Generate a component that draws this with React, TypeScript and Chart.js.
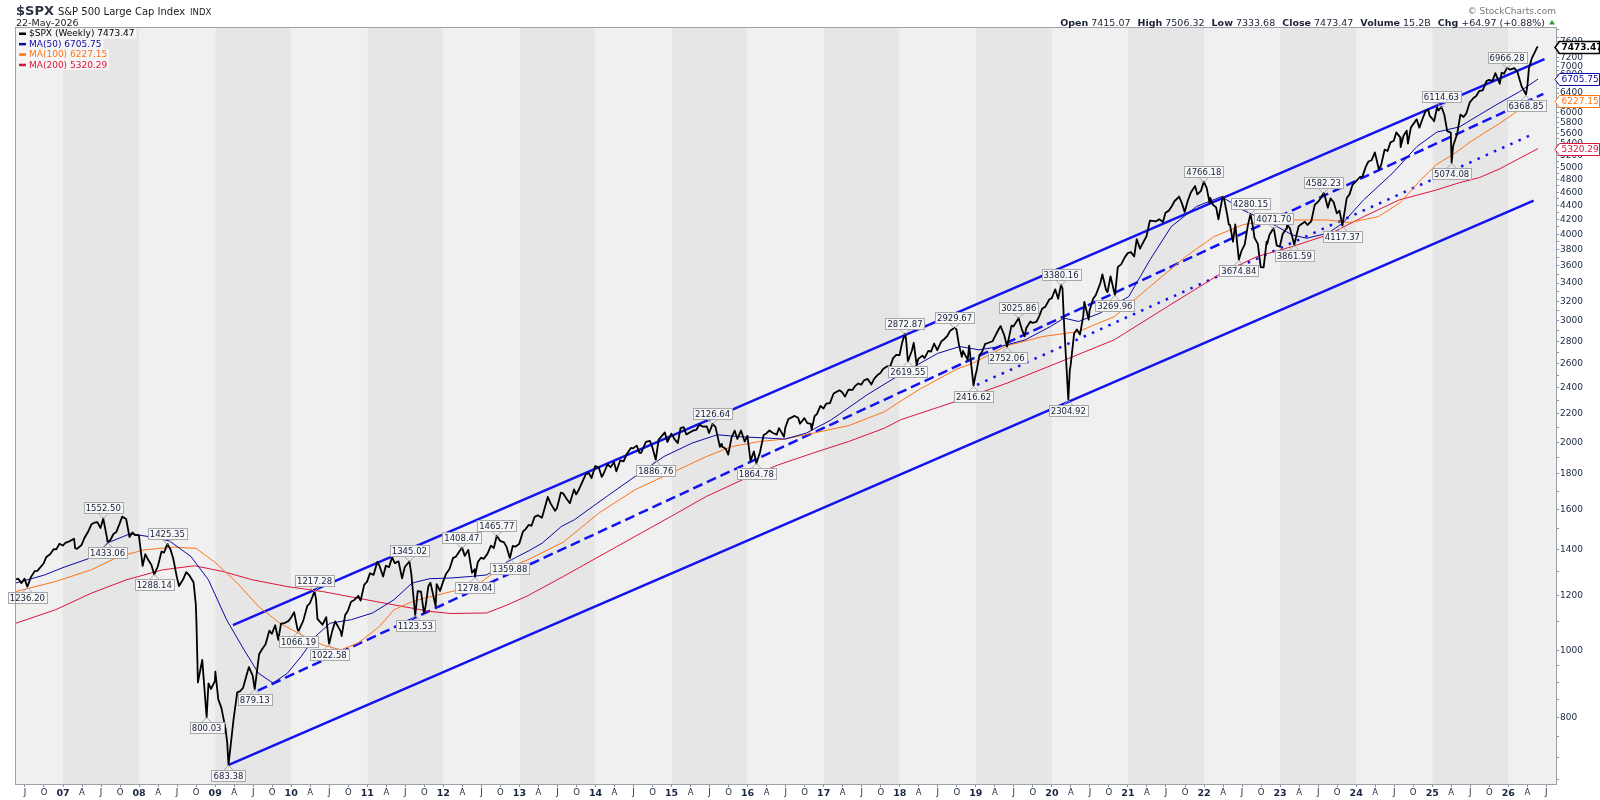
import React, { useEffect, useRef } from 'react';
import { Chart, registerables } from 'chart.js';

Chart.register(...registerables);

const FONT = '"DejaVu Sans", Verdana, sans-serif';

// visible window (decimal years) and log price range
const X_MIN = 2006.382;
const X_MAX = 2026.627;
const Y_MIN = 641;
const Y_MAX = 7950;

// month-end closes, May 2006 .. Nov 2025
const FIRST_YEAR = 2006;
const FIRST_MONTH = 5;
const monthEndCloses = [
  1270.09, 1270.2, 1276.66, 1303.82, 1335.85, 1377.94, 1400.63, 1418.3,
  1438.24, 1406.82, 1420.86, 1482.37, 1530.62, 1503.35, 1455.27, 1473.99, 1526.75, 1549.38, 1481.14, 1468.36,
  1378.55, 1330.63, 1322.7, 1385.59, 1400.38, 1280.0, 1267.38, 1282.83, 1166.36, 968.75, 896.24, 903.25,
  825.88, 735.09, 797.87, 872.81, 919.14, 919.32, 987.48, 1020.62, 1057.08, 1036.19, 1095.63, 1115.1,
  1073.87, 1104.49, 1169.43, 1186.69, 1089.41, 1030.71, 1101.6, 1049.33, 1141.2, 1183.26, 1180.55, 1257.64,
  1286.12, 1327.22, 1325.83, 1363.61, 1345.2, 1320.64, 1292.28, 1218.89, 1131.42, 1253.3, 1246.96, 1257.6,
  1312.41, 1365.68, 1408.47, 1397.91, 1310.33, 1362.16, 1379.32, 1406.58, 1440.67, 1412.16, 1416.18, 1426.19,
  1498.11, 1514.68, 1569.19, 1597.57, 1630.74, 1606.28, 1685.73, 1632.97, 1681.55, 1756.54, 1805.81, 1848.36,
  1782.59, 1859.45, 1872.34, 1883.95, 1923.57, 1960.23, 1930.67, 2003.37, 1972.29, 2018.05, 2067.56, 2058.9,
  1994.99, 2104.5, 2067.89, 2085.51, 2107.39, 2063.11, 2103.84, 1972.18, 1920.03, 2079.36, 2080.41, 2043.94,
  1940.24, 1932.23, 2059.74, 2065.3, 2096.95, 2098.86, 2173.6, 2170.95, 2168.27, 2126.15, 2198.81, 2238.83,
  2278.87, 2363.64, 2362.72, 2384.2, 2411.8, 2423.41, 2470.3, 2471.65, 2519.36, 2575.26, 2647.58, 2673.61,
  2823.81, 2713.83, 2640.87, 2648.05, 2705.27, 2718.37, 2816.29, 2901.52, 2913.98, 2711.74, 2760.17, 2506.85,
  2704.1, 2784.49, 2834.4, 2945.83, 2752.06, 2941.76, 2980.38, 2926.46, 2976.74, 3037.56, 3140.98, 3230.78,
  3225.52, 2954.22, 2584.59, 2912.43, 3044.31, 3100.29, 3271.12, 3500.31, 3363.0, 3269.96, 3621.63, 3756.07,
  3714.24, 3811.15, 3972.89, 4181.17, 4204.11, 4297.5, 4395.26, 4522.68, 4307.54, 4605.38, 4567.0, 4766.18,
  4515.55, 4373.94, 4530.41, 4131.93, 4132.15, 3785.38, 4130.29, 3955.0, 3585.62, 3871.98, 4080.11, 3839.5,
  4076.6, 3970.15, 4109.31, 4169.48, 4179.83, 4450.38, 4588.96, 4507.66, 4288.05, 4193.8, 4567.8, 4769.83,
  4845.65, 5096.27, 5254.35, 5035.69, 5277.51, 5460.48, 5522.3, 5648.4, 5762.48, 5705.45, 6032.38, 5881.63,
  6040.53, 5954.5, 5611.85, 5569.06, 5911.69, 6204.95, 6339.39, 6460.26, 6688.46, 6840.2, 6849.09,
];

// labelled weekly closes
const pivotHighs: [string, number][] = [
  ['2007-07-13', 1552.5], ['2008-05-16', 1425.35], ['2010-04-23', 1217.28], ['2011-07-22', 1345.02],
  ['2012-03-30', 1408.47], ['2012-09-14', 1465.77], ['2015-07-17', 2126.64], ['2018-01-26', 2872.87],
  ['2018-09-21', 2929.67], ['2019-07-26', 3025.86], ['2020-02-14', 3380.16], ['2021-12-31', 4766.18],
  ['2022-08-12', 4280.15], ['2022-12-02', 4071.7], ['2023-07-28', 4582.23], ['2025-02-14', 6114.63],
  ['2025-12-26', 6966.28],
];
const pivotLows: [string, number][] = [
  ['2006-07-14', 1236.2], ['2007-08-03', 1433.06], ['2008-03-14', 1288.14], ['2008-11-21', 800.03],
  ['2009-03-06', 683.38], ['2009-07-10', 879.13], ['2010-02-05', 1066.19], ['2010-07-02', 1022.58],
  ['2011-08-19', 1123.53], ['2012-06-01', 1278.04], ['2012-11-16', 1359.88], ['2014-10-17', 1886.76],
  ['2016-02-12', 1864.78], ['2018-02-09', 2619.55], ['2018-12-21', 2416.62], ['2019-05-31', 2752.06],
  ['2020-03-20', 2304.92], ['2020-10-30', 3269.96], ['2022-06-17', 3674.84], ['2023-03-10', 3861.59],
  ['2023-10-27', 4117.37], ['2025-04-04', 5074.08], ['2026-03-27', 6368.85],
];
// other weekly closes
const extraWeeklyCloses: [string, number][] = [
  ['2006-05-19', 1267.03], ['2007-02-23', 1451.19], ['2007-03-09', 1402.84], ['2007-10-12', 1561.8],
  ['2008-01-18', 1325.19], ['2008-07-11', 1239.49], ['2008-09-19', 1255.08], ['2008-10-03', 1099.23],
  ['2008-10-10', 899.22], ['2009-01-02', 931.8], ['2009-02-20', 770.05], ['2010-05-07', 1110.88],
  ['2010-08-27', 1064.59], ['2011-02-18', 1343.01], ['2011-10-07', 1155.46], ['2011-11-25', 1158.67],
  ['2015-08-21', 1970.89], ['2015-08-28', 1988.87], ['2016-06-24', 2037.41], ['2016-11-04', 2085.18],
  ['2019-01-04', 2531.94], ['2019-08-09', 2918.65], ['2020-02-21', 3337.75], ['2020-03-27', 2541.47],
  ['2020-09-25', 3298.46], ['2021-03-05', 3841.94], ['2021-09-03', 4535.43], ['2022-01-28', 4431.85],
  ['2022-03-11', 4204.31], ['2022-05-20', 3901.36], ['2022-10-14', 3583.07], ['2024-04-19', 4967.23],
  ['2024-07-12', 5615.35], ['2024-08-02', 5346.56], ['2025-01-10', 5827.04], ['2025-04-11', 5363.36],
];
// mid-month weekly closes
const midMonthCloses: [string, number][] = [
  ['2006-06-16', 1251.54], ['2006-08-18', 1302.3], ['2006-09-15', 1319.66], ['2006-10-13', 1365.62],
  ['2006-11-17', 1401.2], ['2006-12-15', 1427.09],
  ['2007-01-12', 1430.73], ['2007-04-13', 1452.85], ['2007-05-18', 1522.75], ['2007-06-15', 1532.91],
  ['2007-08-17', 1445.94], ['2007-09-14', 1484.25], ['2007-11-16', 1458.74], ['2007-12-14', 1467.95],
  ['2008-02-15', 1349.99], ['2008-04-18', 1390.33], ['2008-06-13', 1360.03], ['2008-08-15', 1298.2],
  ['2008-12-12', 879.73],
  ['2009-01-16', 850.12], ['2009-04-17', 869.6], ['2009-05-15', 882.88], ['2009-06-12', 946.21],
  ['2009-08-14', 1004.09], ['2009-09-18', 1068.3], ['2009-10-16', 1087.68], ['2009-11-13', 1093.48],
  ['2009-12-18', 1102.47],
  ['2010-01-15', 1136.03], ['2010-03-19', 1159.9], ['2010-06-18', 1117.51], ['2010-07-16', 1064.88],
  ['2010-09-17', 1125.59], ['2010-10-15', 1176.19], ['2010-11-19', 1199.73], ['2010-12-17', 1243.91],
  ['2011-01-14', 1293.24], ['2011-03-18', 1279.2], ['2011-04-15', 1319.68], ['2011-05-13', 1337.77],
  ['2011-06-17', 1271.5], ['2011-09-16', 1216.01], ['2011-10-21', 1238.25], ['2011-12-16', 1219.66],
  ['2012-01-13', 1289.09], ['2012-02-17', 1361.23], ['2012-04-13', 1370.26], ['2012-05-18', 1295.22],
  ['2012-06-15', 1342.84], ['2012-07-13', 1356.78], ['2012-08-17', 1418.16], ['2012-10-19', 1433.19],
  ['2012-12-14', 1413.58],
  ['2013-01-18', 1485.98], ['2013-02-15', 1519.79], ['2013-03-15', 1560.7], ['2013-04-19', 1555.25],
  ['2013-05-17', 1667.47], ['2013-06-21', 1592.43], ['2013-07-19', 1692.09], ['2013-08-16', 1655.83],
  ['2013-09-20', 1709.91], ['2013-10-11', 1703.2], ['2013-11-15', 1798.18], ['2013-12-13', 1775.32],
  ['2014-01-17', 1838.7], ['2014-02-07', 1797.02], ['2014-03-14', 1841.13], ['2014-04-11', 1815.69],
  ['2014-05-16', 1877.86], ['2014-06-20', 1962.87], ['2014-07-18', 1978.22], ['2014-08-08', 1931.59],
  ['2014-09-19', 2010.4], ['2014-11-14', 2039.82], ['2014-12-12', 2002.33],
  ['2015-01-16', 2019.42], ['2015-02-13', 2096.99], ['2015-03-13', 2053.4], ['2015-04-17', 2081.18],
  ['2015-05-15', 2122.73], ['2015-06-19', 2109.99], ['2015-09-18', 1958.08], ['2015-10-16', 2033.11],
  ['2015-11-13', 2023.04], ['2015-12-18', 2005.55],
  ['2016-01-15', 1880.33], ['2016-03-18', 2049.58], ['2016-04-15', 2080.73], ['2016-05-20', 2052.32],
  ['2016-07-15', 2161.74], ['2016-08-12', 2184.05], ['2016-09-09', 2127.81], ['2016-10-14', 2132.98],
  ['2016-11-18', 2181.9], ['2016-12-16', 2258.07],
  ['2017-01-13', 2274.64], ['2017-02-17', 2351.16], ['2017-03-17', 2378.25], ['2017-04-13', 2328.95],
  ['2017-05-19', 2381.73], ['2017-06-16', 2433.15], ['2017-07-14', 2459.27], ['2017-08-18', 2425.55],
  ['2017-09-15', 2500.23], ['2017-10-13', 2553.17], ['2017-11-17', 2578.85], ['2017-12-15', 2675.81],
  ['2018-01-12', 2786.24], ['2018-03-09', 2786.57], ['2018-03-23', 2588.26], ['2018-04-20', 2670.14],
  ['2018-05-18', 2712.97], ['2018-06-15', 2779.42], ['2018-07-20', 2801.83], ['2018-08-17', 2850.13],
  ['2018-10-12', 2767.13], ['2018-10-26', 2658.69], ['2018-11-23', 2632.56],
  ['2019-01-18', 2670.71], ['2019-02-15', 2775.6], ['2019-03-22', 2800.71], ['2019-04-18', 2905.03],
  ['2019-05-17', 2859.53], ['2019-06-21', 2950.46], ['2019-08-23', 2847.11], ['2019-09-20', 2992.07],
  ['2019-10-18', 2986.2], ['2019-11-15', 3120.46], ['2019-12-20', 3221.22],
  ['2020-01-17', 3329.62], ['2020-04-17', 2874.56], ['2020-05-15', 2863.7], ['2020-06-05', 3193.93],
  ['2020-06-26', 3009.05], ['2020-07-17', 3224.73], ['2020-08-21', 3397.16], ['2020-09-18', 3319.47],
  ['2020-10-09', 3477.14], ['2020-11-13', 3585.15], ['2020-12-18', 3709.41],
  ['2021-01-15', 3768.25], ['2021-02-12', 3934.83], ['2021-03-19', 3913.1], ['2021-04-16', 4185.47],
  ['2021-05-14', 4173.85], ['2021-06-18', 4166.45], ['2021-07-16', 4327.16], ['2021-08-13', 4468.0],
  ['2021-09-17', 4432.99], ['2021-10-15', 4471.37], ['2021-11-19', 4697.96], ['2021-12-17', 4620.64],
  ['2022-01-14', 4662.85], ['2022-02-11', 4418.64], ['2022-04-08', 4488.28], ['2022-04-22', 4271.78],
  ['2022-05-06', 4123.34], ['2022-07-15', 3863.16], ['2022-08-26', 4057.66], ['2022-09-16', 3873.33],
  ['2022-10-28', 3901.06], ['2022-11-11', 3992.93], ['2022-12-16', 3852.36],
  ['2023-01-13', 3999.09], ['2023-02-03', 4136.48], ['2023-02-17', 4079.09], ['2023-04-14', 4137.64],
  ['2023-05-12', 4124.08], ['2023-06-16', 4409.59], ['2023-07-14', 4505.42], ['2023-08-18', 4369.71],
  ['2023-09-15', 4450.32], ['2023-10-13', 4327.78], ['2023-11-17', 4514.02], ['2023-12-15', 4719.19],
  ['2024-01-19', 4839.81], ['2024-02-16', 5005.57], ['2024-03-15', 5117.09], ['2024-05-17', 5303.27],
  ['2024-06-14', 5431.6], ['2024-08-16', 5554.25], ['2024-09-06', 5408.42], ['2024-09-20', 5702.55],
  ['2024-10-18', 5864.67], ['2024-11-15', 5870.62], ['2024-12-13', 6051.09], ['2024-12-20', 5930.85],
  ['2025-01-24', 6101.24], ['2025-03-14', 5638.94], ['2025-04-25', 5525.21], ['2025-05-16', 5958.38],
  ['2025-06-13', 5976.97], ['2025-07-18', 6296.79], ['2025-08-15', 6449.8], ['2025-09-19', 6664.36],
  ['2025-10-17', 6664.01], ['2025-11-21', 6602.99], ['2025-12-12', 6827.41],
];
const recentWeeklyCloses: [string, number][] = [
  ['2026-01-09', 6920], ['2026-01-30', 6954], ['2026-02-13', 6876], ['2026-03-06', 6543],
  ['2026-04-03', 6578], ['2026-04-10', 6954], ['2026-04-24', 7190], ['2026-05-08', 7330],
  ['2026-05-15', 7408.5], ['2026-05-22', 7473.47],
];

// moving averages: [decimal year, value]
const ma50Points: [number, number][] = [
  [2006.38, 1252], [2006.75, 1285], [2007.0, 1318], [2007.37, 1362], [2007.6, 1433], [2007.88, 1475],
  [2008.17, 1459], [2008.4, 1440], [2008.68, 1368], [2008.91, 1266], [2009.15, 1108], [2009.38, 1002],
  [2009.57, 927], [2009.76, 897], [2009.95, 927], [2010.13, 980], [2010.32, 1048], [2010.51, 1095],
  [2010.79, 1108], [2011.07, 1133], [2011.35, 1184], [2011.59, 1252], [2011.82, 1270], [2012.1, 1273],
  [2012.38, 1280], [2012.57, 1286], [2012.85, 1345], [2013.13, 1395], [2013.3, 1430], [2013.55, 1511],
  [2013.72, 1545], [2014.15, 1671], [2014.52, 1785], [2014.9, 1908], [2015.27, 1995], [2015.6, 2051],
  [2015.93, 2037], [2016.21, 2030], [2016.49, 2022], [2016.77, 2062], [2017.1, 2156], [2017.57, 2343],
  [2018.04, 2520], [2018.5, 2690], [2018.79, 2752], [2019.04, 2722], [2019.32, 2752], [2019.65, 2814],
  [2019.98, 2941], [2020.16, 3025], [2020.35, 2991], [2020.63, 3075], [2021.01, 3250], [2021.29, 3674],
  [2021.57, 4104], [2021.9, 4387], [2022.23, 4534], [2022.51, 4336], [2022.88, 4148], [2023.16, 3991],
  [2023.35, 3947], [2023.63, 4015], [2023.82, 4148], [2024.1, 4487], [2024.48, 4904], [2024.8, 5358],
  [2025.06, 5620], [2025.36, 5720], [2025.62, 5953], [2025.88, 6190], [2026.15, 6433], [2026.39, 6705.75],
];
const ma100Points: [number, number][] = [
  [2006.38, 1217], [2006.9, 1258], [2007.37, 1308], [2007.74, 1368], [2008.07, 1398], [2008.45, 1411],
  [2008.75, 1405], [2009.01, 1338], [2009.29, 1252], [2009.57, 1158], [2009.85, 1095], [2010.13, 1054],
  [2010.41, 1019], [2010.65, 1002], [2010.88, 1025], [2011.16, 1083], [2011.35, 1145], [2011.59, 1177],
  [2011.82, 1195], [2012.2, 1224], [2012.41, 1237], [2012.66, 1294], [2013.11, 1352], [2013.58, 1435],
  [2014.05, 1582], [2014.52, 1708], [2014.99, 1805], [2015.46, 1908], [2015.79, 1972], [2016.16, 2006],
  [2016.49, 2022], [2016.86, 2062], [2017.33, 2115], [2017.8, 2215], [2018.0, 2290], [2018.27, 2390],
  [2018.48, 2460], [2018.74, 2550], [2018.95, 2600], [2019.41, 2760], [2019.88, 2845], [2020.35, 2893],
  [2020.82, 3040], [2021.29, 3360], [2021.76, 3713], [2022.13, 3968], [2022.51, 4128], [2022.88, 4194],
  [2023.16, 4194], [2023.63, 4194], [2023.91, 4157], [2024.29, 4241], [2024.57, 4436], [2024.85, 4794],
  [2025.05, 5040], [2025.3, 5240], [2025.5, 5440], [2025.7, 5620], [2025.88, 5780], [2026.15, 6060],
  [2026.39, 6227.15],
];
const ma200Points: [number, number][] = [
  [2006.38, 1095], [2006.9, 1145], [2007.37, 1210], [2007.84, 1266], [2008.31, 1308], [2008.73, 1326],
  [2009.1, 1301], [2009.48, 1266], [2009.95, 1237], [2010.41, 1217], [2010.88, 1190], [2011.35, 1164],
  [2011.82, 1139], [2012.1, 1131], [2012.57, 1133], [2012.85, 1165], [2013.11, 1200], [2013.58, 1280],
  [2014.05, 1368], [2014.52, 1462], [2014.99, 1562], [2015.46, 1671], [2015.93, 1765], [2016.4, 1855],
  [2016.86, 1930], [2017.33, 2006], [2017.8, 2097], [2018.01, 2156], [2018.7, 2285], [2019.41, 2436],
  [2020.12, 2618], [2020.82, 2814], [2021.52, 3144], [2022.23, 3514], [2022.7, 3714], [2023.16, 3840],
  [2023.63, 3992], [2024.1, 4242], [2024.57, 4486], [2025.04, 4630], [2025.36, 4750], [2025.62, 4830],
  [2025.88, 4969], [2026.39, 5320.29],
];

// trend lines: [decimal year, value] end points
const upperChannel: [number, number][] = [[2009.234, 1088], [2026.476, 7166]];
const lowerChannel: [number, number][] = [[2009.18, 683.38], [2026.333, 4475]];
const dashedSupport: [number, number][] = [[2009.562, 875], [2026.46, 6384]];
const dottedSupport: [number, number][] = [[2019.016, 2422], [2026.3, 5568]];

// axis ticks
const yLabelValues = [800, 1000, 1200, 1400, 1600, 1800, 2000, 2200, 2400, 2600, 2800, 3000, 3200, 3400, 3600,
  3800, 4000, 4200, 4400, 4600, 4800, 5000, 5200, 5400, 5600, 5800, 6000, 6200, 6400, 6600, 6800, 7000, 7200,
  7400, 7600];
const yMinorValues = [650, 700, 750, 850, 900, 950, 1100, 1300, 1500, 1700, 1900, 2100, 2300, 2500, 2700, 2900,
  3100, 3300, 3500, 3700, 3900, 4100, 4300, 4500, 4700, 4900, 5100, 5300, 5500, 5700, 5900, 6100, 6300, 6500,
  6700, 6900, 7100, 7300, 7500, 7700, 7900];
const quarterLetters = ['', 'A', 'J', 'O'];
const bandYears = [2006, 2007, 2008, 2009, 2010, 2011, 2012, 2013, 2014, 2015, 2016, 2017, 2018, 2019, 2020,
  2021, 2022, 2023, 2024, 2025, 2026];

// texts
const headerSymbol = '$SPX';
const headerName = 'S&P 500 Large Cap Index';
const headerExchange = 'INDX';
const headerDate = '22-May-2026';
const quoteFields: [string, string][] = [
  ['Open', '7415.07'], ['High', '7506.32'], ['Low', '7333.68'], ['Close', '7473.47'],
  ['Volume', '15.2B'], ['Chg', '+64.97 (+0.88%)'],
];
const copyright = '\u00A9 StockCharts.com';

const NAVY = '#0a0aa6';
const ORANGE = '#ff7417';
const CRIMSON = '#dc143c';
const TREND = '#1212f0';

const legendRows: [string, string][] = [
  ['$SPX (Weekly) 7473.47', '#000000'],
  ['MA(50) 6705.75', NAVY],
  ['MA(100) 6227.15', ORANGE],
  ['MA(200) 5320.29', CRIMSON],
];
const lastValueTags: [number, string, boolean][] = [
  [7473.47, '#000000', true],
  [6705.75, NAVY, false],
  [6227.15, ORANGE, false],
  [5320.29, CRIMSON, false],
];

function decYear(iso: string): number {
  const [y, m, d] = iso.split('-').map(Number);
  const t0 = Date.UTC(y, 0, 1);
  const t1 = Date.UTC(y + 1, 0, 1);
  return y + (Date.UTC(y, m - 1, d) - t0) / (t1 - t0);
}
function monthEndYear(y: number, m: number): number {
  const t0 = Date.UTC(y, 0, 1);
  const t1 = Date.UTC(y + 1, 0, 1);
  return y + (Date.UTC(y, m, 0) - t0) / (t1 - t0);
}
function buildPrice() {
  const pts: { x: number; y: number }[] = [];
  monthEndCloses.forEach((v, i) => {
    const m0 = FIRST_MONTH - 1 + i;
    const y = FIRST_YEAR + Math.floor(m0 / 12);
    const m = (m0 % 12) + 1;
    pts.push({ x: monthEndYear(y, m), y: v });
  });
  [...midMonthCloses, ...extraWeeklyCloses, ...pivotHighs, ...pivotLows, ...recentWeeklyCloses].forEach(([d, v]) =>
    pts.push({ x: decYear(d), y: v }));
  pts.sort((a, b) => a.x - b.x);
  const out: { x: number; y: number }[] = [];
  for (const p of pts) {
    if (out.length && Math.abs(out[out.length - 1].x - p.x) < 0.002) out[out.length - 1] = p;
    else out.push(p);
  }
  return out;
}
const toXY = (arr: [number, number][]) => arr.map(([x, y]) => ({ x, y }));

function buildXTicks() {
  const ticks: { value: number; major: boolean; label: string }[] = [];
  for (const yr of bandYears) {
    for (let q = 0; q < 4; q++) {
      const v = yr + q / 4;
      if (v < X_MIN || v > X_MAX) continue;
      ticks.push({ value: v, major: q === 0, label: q === 0 ? String(yr).slice(2) : quarterLetters[q] });
    }
  }
  return ticks;
}

function drawTag(ctx: CanvasRenderingContext2D, px: number, py: number, text: string, below: boolean) {
  ctx.font = `8.5px ${FONT}`;
  const w = Math.round(ctx.measureText(text).width) + 4;
  const h = 11;
  const ph = 5;
  const bx = Math.round(px - w / 2) + 0.5;
  const by = below ? Math.round(py + ph) + 0.5 : Math.round(py - ph - h) + 0.5;
  ctx.fillStyle = 'rgba(248,248,248,0.95)';
  ctx.fillRect(bx, by, w, h);
  ctx.strokeStyle = '#a8a8a8';
  ctx.lineWidth = 1;
  ctx.strokeRect(bx, by, w, h);
  ctx.beginPath();
  if (below) {
    ctx.moveTo(px - 5, by);
    ctx.lineTo(px, by - ph);
    ctx.lineTo(px + 5, by);
  } else {
    ctx.moveTo(px - 5, by + h);
    ctx.lineTo(px, by + h + ph);
    ctx.lineTo(px + 5, by + h);
  }
  ctx.stroke();
  ctx.fillStyle = '#16213a';
  ctx.textAlign = 'center';
  ctx.textBaseline = 'middle';
  ctx.fillText(text, px, by + h / 2 + 0.5);
}

const overlayPlugin = {
  id: 'overlay',
  beforeDraw(chart: any) {
    const { ctx, chartArea: a, scales } = chart;
    const x = scales.x;
    ctx.save();
    ctx.fillStyle = '#ffffff';
    ctx.fillRect(0, 0, chart.width, chart.height);
    for (const yr of bandYears) {
      const x1 = Math.max(a.left, x.getPixelForValue(yr));
      const x2 = Math.min(a.right, x.getPixelForValue(yr + 1));
      if (x2 <= x1) continue;
      ctx.fillStyle = yr % 2 === 0 ? '#f0f0f0' : '#e6e6e6';
      ctx.fillRect(x1, a.top, x2 - x1, a.bottom - a.top);
    }
    ctx.restore();
  },
  afterDatasetsDraw(chart: any) {
    const { ctx, scales } = chart;
    const x = scales.x;
    const y = scales.y;
    ctx.save();
    for (const [d, v] of pivotHighs) drawTag(ctx, x.getPixelForValue(decYear(d)), y.getPixelForValue(v), v.toFixed(2), false);
    for (const [d, v] of pivotLows) drawTag(ctx, x.getPixelForValue(decYear(d)), y.getPixelForValue(v), v.toFixed(2), true);

    // legend
    ctx.font = `9px ${FONT}`;
    ctx.textAlign = 'left';
    ctx.textBaseline = 'middle';
    legendRows.forEach(([text, color], i) => {
      const cy = 33.5 + i * 10.4;
      const tw = ctx.measureText(text).width;
      ctx.fillStyle = 'rgba(246,246,246,0.9)';
      ctx.fillRect(17, cy - 5.2, tw + 14, 10.4);
      ctx.fillStyle = color;
      ctx.fillRect(19, cy - 1, 7, 2.5);
      ctx.fillText(text, 29, cy + 0.5);
    });
    ctx.restore();
  },
  afterDraw(chart: any) {
    const { ctx, chartArea: a, scales } = chart;
    const y = scales.y;
    ctx.save();
    // plot frame
    ctx.strokeStyle = '#9ea3a9';
    ctx.lineWidth = 1;
    ctx.strokeRect(Math.round(a.left) - 0.5, Math.round(a.top) - 0.5, Math.round(a.right - a.left) + 1, Math.round(a.bottom - a.top) + 1);

    // header left
    ctx.textAlign = 'left';
    ctx.textBaseline = 'alphabetic';
    ctx.fillStyle = '#2b3340';
    ctx.font = `bold 13px ${FONT}`;
    ctx.fillText(headerSymbol, 16, 15);
    let hx = 16 + ctx.measureText(headerSymbol).width + 4;
    ctx.fillStyle = '#1c1c1c';
    ctx.font = `10px ${FONT}`;
    ctx.fillText(headerName, hx, 15);
    hx += ctx.measureText(headerName).width + 5;
    ctx.font = `8.5px ${FONT}`;
    ctx.fillText(headerExchange, hx, 15);
    ctx.font = `9.5px ${FONT}`;
    ctx.fillText(headerDate, 16, 26);

    // header right
    ctx.fillStyle = '#777777';
    ctx.font = `9px ${FONT}`;
    ctx.textAlign = 'right';
    ctx.fillText(copyright, 1556, 14);
    ctx.textAlign = 'left';
    const segs: { t: string; bold: boolean; gap: number }[] = [];
    quoteFields.forEach(([lab, val], i) => {
      segs.push({ t: lab, bold: true, gap: 3 });
      segs.push({ t: val, bold: false, gap: i === quoteFields.length - 1 ? 3 : 7 });
    });
    let total = 0;
    for (const s of segs) {
      ctx.font = `${s.bold ? 'bold ' : ''}9.5px ${FONT}`;
      total += ctx.measureText(s.t).width + s.gap;
    }
    let qx = 1548 - total;
    ctx.fillStyle = '#1a2233';
    for (const s of segs) {
      ctx.font = `${s.bold ? 'bold ' : ''}9.5px ${FONT}`;
      ctx.fillText(s.t, qx, 26);
      qx += ctx.measureText(s.t).width + s.gap;
    }
    ctx.fillStyle = '#2e9a3a';
    ctx.beginPath();
    ctx.moveTo(1549, 24.5);
    ctx.lineTo(1555, 24.5);
    ctx.lineTo(1552, 20);
    ctx.closePath();
    ctx.fill();

    // last-value tags on the right axis
    for (const [v, color, bold] of lastValueTags) {
      const py = Math.round(y.getPixelForValue(v)) + 0.5;
      const x0 = a.right - 1;
      ctx.beginPath();
      ctx.moveTo(x0, py);
      ctx.lineTo(x0 + 4.5, py - 6);
      ctx.lineTo(1599.5, py - 6);
      ctx.lineTo(1599.5, py + 6);
      ctx.lineTo(x0 + 4.5, py + 6);
      ctx.closePath();
      ctx.fillStyle = '#ffffff';
      ctx.fill();
      ctx.strokeStyle = color;
      ctx.lineWidth = bold ? 1.5 : 1;
      ctx.stroke();
      ctx.font = `${bold ? 'bold ' : ''}9px ${FONT}`;
      ctx.fillStyle = color;
      ctx.textAlign = 'left';
      ctx.textBaseline = 'middle';
      ctx.fillText(v.toFixed(2), x0 + 6.5, py + 0.5);
    }
    ctx.restore();
  },
};

export default function App() {
  const ref = useRef<HTMLCanvasElement>(null);
  useEffect(() => {
    const canvas = ref.current;
    if (!canvas) return;
    const xTicks = buildXTicks();
    const yLabelSet = new Set(yLabelValues);
    const yTickValues = [...yLabelValues, ...yMinorValues].sort((a, b) => a - b);
    const lineBase = { pointRadius: 0, pointHoverRadius: 0, tension: 0, fill: false };
    const chart = new Chart(canvas, {
      type: 'line',
      data: {
        datasets: [
          { ...lineBase, label: 'price', data: buildPrice(), borderColor: '#000000', borderWidth: 1.8, borderJoinStyle: 'round' },
          { ...lineBase, label: 'MA50', data: toXY(ma50Points), borderColor: NAVY, borderWidth: 1 },
          { ...lineBase, label: 'MA100', data: toXY(ma100Points), borderColor: ORANGE, borderWidth: 1 },
          { ...lineBase, label: 'MA200', data: toXY(ma200Points), borderColor: CRIMSON, borderWidth: 1 },
          { ...lineBase, label: 'upper', data: toXY(upperChannel), borderColor: TREND, borderWidth: 2.5 },
          { ...lineBase, label: 'lower', data: toXY(lowerChannel), borderColor: TREND, borderWidth: 2.5 },
          { ...lineBase, label: 'dashed', data: toXY(dashedSupport), borderColor: TREND, borderWidth: 2.5, borderDash: [10, 5] },
          { ...lineBase, label: 'dotted', data: toXY(dottedSupport), borderColor: TREND, borderWidth: 2.5, borderDash: [2.5, 6.5] },
        ] as any,
      },
      options: {
        responsive: false,
        maintainAspectRatio: false,
        animation: false,
        events: [],
        layout: { padding: { left: 16, top: 28, right: 0, bottom: 0 } },
        plugins: { legend: { display: false }, tooltip: { enabled: false }, title: { display: false } },
        scales: {
          x: {
            type: 'linear',
            bounds: 'data',
            min: X_MIN,
            max: X_MAX,
            afterFit: (s: any) => { s.height = 16; },
            afterBuildTicks: (s: any) => { s.ticks = xTicks.map((t) => ({ value: t.value, major: t.major })); },
            ticks: {
              autoSkip: false,
              maxRotation: 0,
              minRotation: 0,
              padding: 1,
              color: '#1a2742',
              font: (c: any) => (c.tick && c.tick.major
                ? { family: FONT, size: 9.5, weight: 'bold' }
                : { family: FONT, size: 8.5, weight: 'normal' }),
              callback: (_v: any, i: number) => (xTicks[i] ? xTicks[i].label : ''),
            },
            grid: { drawOnChartArea: false, drawTicks: true, tickLength: 3, color: '#8a9099' },
            border: { display: true, color: '#9ea3a9' },
          },
          y: {
            type: 'logarithmic',
            position: 'right',
            bounds: 'data',
            min: Y_MIN,
            max: Y_MAX,
            afterFit: (s: any) => { s.width = 44; },
            afterBuildTicks: (s: any) => { s.ticks = yTickValues.map((v) => ({ value: v })); },
            ticks: {
              autoSkip: false,
              padding: 1,
              color: '#1a2742',
              font: { family: FONT, size: 9 },
              callback: (v: any) => (yLabelSet.has(Number(v)) ? String(v) : ''),
            },
            grid: { drawOnChartArea: false, drawTicks: true, tickLength: 3, color: '#8a9099' },
            border: { display: true, color: '#9ea3a9' },
          },
        },
      } as any,
      plugins: [overlayPlugin],
    });
    return () => chart.destroy();
  }, []);
  return (
    <div style={{ position: 'absolute', left: 0, top: 0, width: 1600, height: 800, background: '#ffffff' }}>
      <canvas ref={ref} width={1600} height={800} style={{ display: 'block', width: 1600, height: 800 }} />
    </div>
  );
}
